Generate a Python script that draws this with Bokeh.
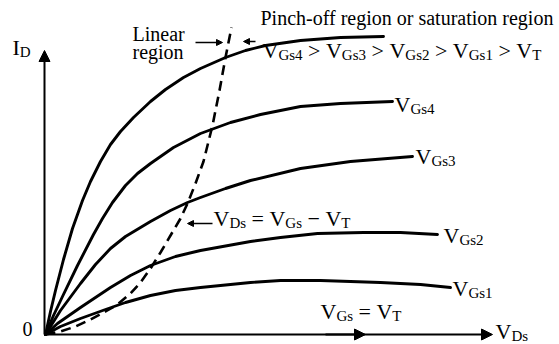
from bokeh.plotting import figure
from bokeh.models import Range1d, Label, Arrow, NormalHead
from bokeh.embed import file_html
from bokeh.resources import INLINE

# MOSFET drain characteristics (arbitrary units): V_DS on x, I_D on y
vds_top = [0, 0.5, 1.0, 1.8, 2.7, 3.7, 4.5, 5.5, 6.5, 7.5, 8.8, 10.5, 12.0, 13.8, 15.5, 18.0, 20.0, 22.0, 25.5, 29.5, 33.8]
id_top = [0, 2.3, 4.4, 7.5, 10.6, 13.4, 15.3, 17.3, 19.0, 20.3, 21.7, 23.3, 24.5, 25.7, 26.6, 27.7, 28.4, 28.9, 29.4, 29.7, 29.8]

vds_gs4 = [0, 0.8, 1.7, 3.2, 4.8, 5.7, 6.7, 8.0, 9.2, 10.5, 12.8, 15.5, 18.5, 21.5, 25.5, 29.5, 34.7]
id_gs4 = [0, 1.9, 3.8, 6.9, 10.0, 11.6, 13.2, 14.9, 16.1, 17.1, 18.7, 20.1, 21.2, 22.0, 22.8, 23.1, 23.3]

vds_gs3 = [0, 1.5, 3.5, 5.0, 6.5, 8.0, 9.5, 10.5, 12.5, 14.2, 15.5, 18.0, 20.5, 25.5, 30.5, 36.7]
id_gs3 = [0, 2.4, 5.1, 7.0, 8.6, 9.8, 10.7, 11.3, 12.4, 13.2, 13.7, 14.6, 15.4, 16.6, 17.3, 17.8]

vds_gs2 = [0, 1.2, 3.5, 6.5, 8.5, 10.5, 13.0, 15.5, 20.5, 23.5, 27.2, 31.8, 35.5, 39.2]
id_gs2 = [0, 1.1, 2.7, 4.7, 5.9, 6.9, 7.8, 8.4, 9.3, 9.7, 10.1, 10.2, 10.2, 10.0]

vds_gs1 = [0, 1.5, 3.5, 6.0, 8.0, 10.5, 13.0, 15.5, 20.5, 23.5, 27.5, 33.5, 37.5, 40.5]
id_gs1 = [0, 0.8, 1.6, 2.5, 3.2, 3.9, 4.4, 4.7, 5.2, 5.4, 5.4, 5.2, 5.0, 4.7]

# boundary V_DS = V_GS - V_T between linear and saturation regions
vds_sat = [0, 1.5, 3.0, 4.5, 6.0, 7.2, 8.5, 9.5, 10.5, 11.5, 12.5, 13.5, 14.2, 15.0, 15.8, 16.7, 17.4, 18.0, 18.6]
id_sat = [0, 0.3, 0.8, 1.5, 2.3, 3.0, 4.1, 5.2, 6.6, 8.2, 9.9, 11.6, 13.1, 15.1, 17.3, 20.9, 24.4, 27.7, 30.7]

vds_axis_end = 44.7
id_axis_end = 28.4

SERIF = "Liberation Serif"
ADV = {"V": .722, "G": .722, "D": .722, "T": .611, "I": .333, "s": .389,
       "0": .5, "1": .5, "2": .5, "3": .5, "4": .5,
       ">": .564, "=": .564, "\u2212": .564, " ": .25}
TEXT_RAISE = 7

p = figure(width=559, height=344, x_range=Range1d(-4.5, 51.4), y_range=Range1d(-1.0, 33.4),
           output_backend="svg", toolbar_location=None, min_border=0,
           x_axis_location=None, y_axis_location=None)
p.grid.visible = False
p.outline_line_color = None
p.background_fill_color = "white"
p.border_fill_color = "white"


def to_data(px, py):
    return px / 10 - 4.5, (334 - py) / 10


def text_at(px, py, txt, size):
    x, y = to_data(px, py - TEXT_RAISE)
    p.add_layout(Label(x=x, y=y, text=txt, text_font=SERIF, text_font_size=f"{size}px",
                       text_baseline="alphabetic", text_align="left", text_color="black"))


def subscripted(px, py, parts, size=22, sub_size=15, drop=4):
    x = px
    for txt, sub in parts:
        fs = sub_size if sub else size
        lead = len(txt) - len(txt.lstrip(" "))
        body = txt.strip(" ")
        if body:
            text_at(x + lead * ADV[" "] * fs, py + (drop if sub else 0), body, fs)
        x += sum(ADV.get(c, .5) for c in txt) * fs


def arrow(x0, y0, x1, y1, width=2, head=10):
    p.add_layout(Arrow(end=NormalHead(size=head, fill_color="black", line_color="black", line_width=1),
                       x_start=x0, y_start=y0, x_end=x1, y_end=y1,
                       line_width=width, line_color="black"))


# axes
arrow(-0.1, 0, -0.1, id_axis_end, width=2, head=11)
arrow(-0.1, 0, vds_axis_end, 0, width=2, head=11)
arrow(28.0, 0, 32.0, 0, width=2, head=11)

# characteristic curves
for xs, ys in [(vds_top, id_top), (vds_gs4, id_gs4), (vds_gs3, id_gs3),
               (vds_gs2, id_gs2), (vds_gs1, id_gs1)]:
    p.line(xs, ys, line_width=2.9, line_color="black", line_join="round", line_cap="round")

p.line(vds_sat, id_sat, line_width=2.6, line_color="black", line_dash="10 6")

# region annotations
text_at(260, 24, "Pinch-off region or saturation region", 20)
text_at(132, 40, "Linear", 20)
text_at(132, 58, "region", 20)
arrow(15.0, 29.2, 17.7, 29.2, width=1.3, head=6)
arrow(21.0, 29.3, 19.8, 29.3, width=1.3, head=6)

subscripted(262, 57, [("V", 0), ("Gs4", 1), (" > ", 0), ("V", 0), ("Gs3", 1), (" > ", 0),
                      ("V", 0), ("Gs2", 1), (" > ", 0), ("V", 0), ("Gs1", 1), (" > ", 0),
                      ("V", 0), ("T", 1)])

# curve labels
subscripted(394, 111, [("V", 0), ("Gs4", 1)])
subscripted(415, 163, [("V", 0), ("Gs3", 1)])
subscripted(443, 242, [("V", 0), ("Gs2", 1)])
subscripted(452, 295, [("V", 0), ("Gs1", 1)])

subscripted(213, 225, [("V", 0), ("Ds", 1), (" = ", 0), ("V", 0), ("Gs", 1),
                       (" \u2212 ", 0), ("V", 0), ("T", 1)])
arrow(16.7, 11.1, 14.2, 11.1, width=1.3, head=6)

subscripted(320, 318, [("V", 0), ("Gs", 1), (" = ", 0), ("V", 0), ("T", 1)])

# axis titles
subscripted(495, 338, [("V", 0), ("Ds", 1)])
subscripted(12, 54, [("I", 0), ("D", 1)])
text_at(22, 335, "0", 20)

open("out.html", "w").write(file_html(p, INLINE))
